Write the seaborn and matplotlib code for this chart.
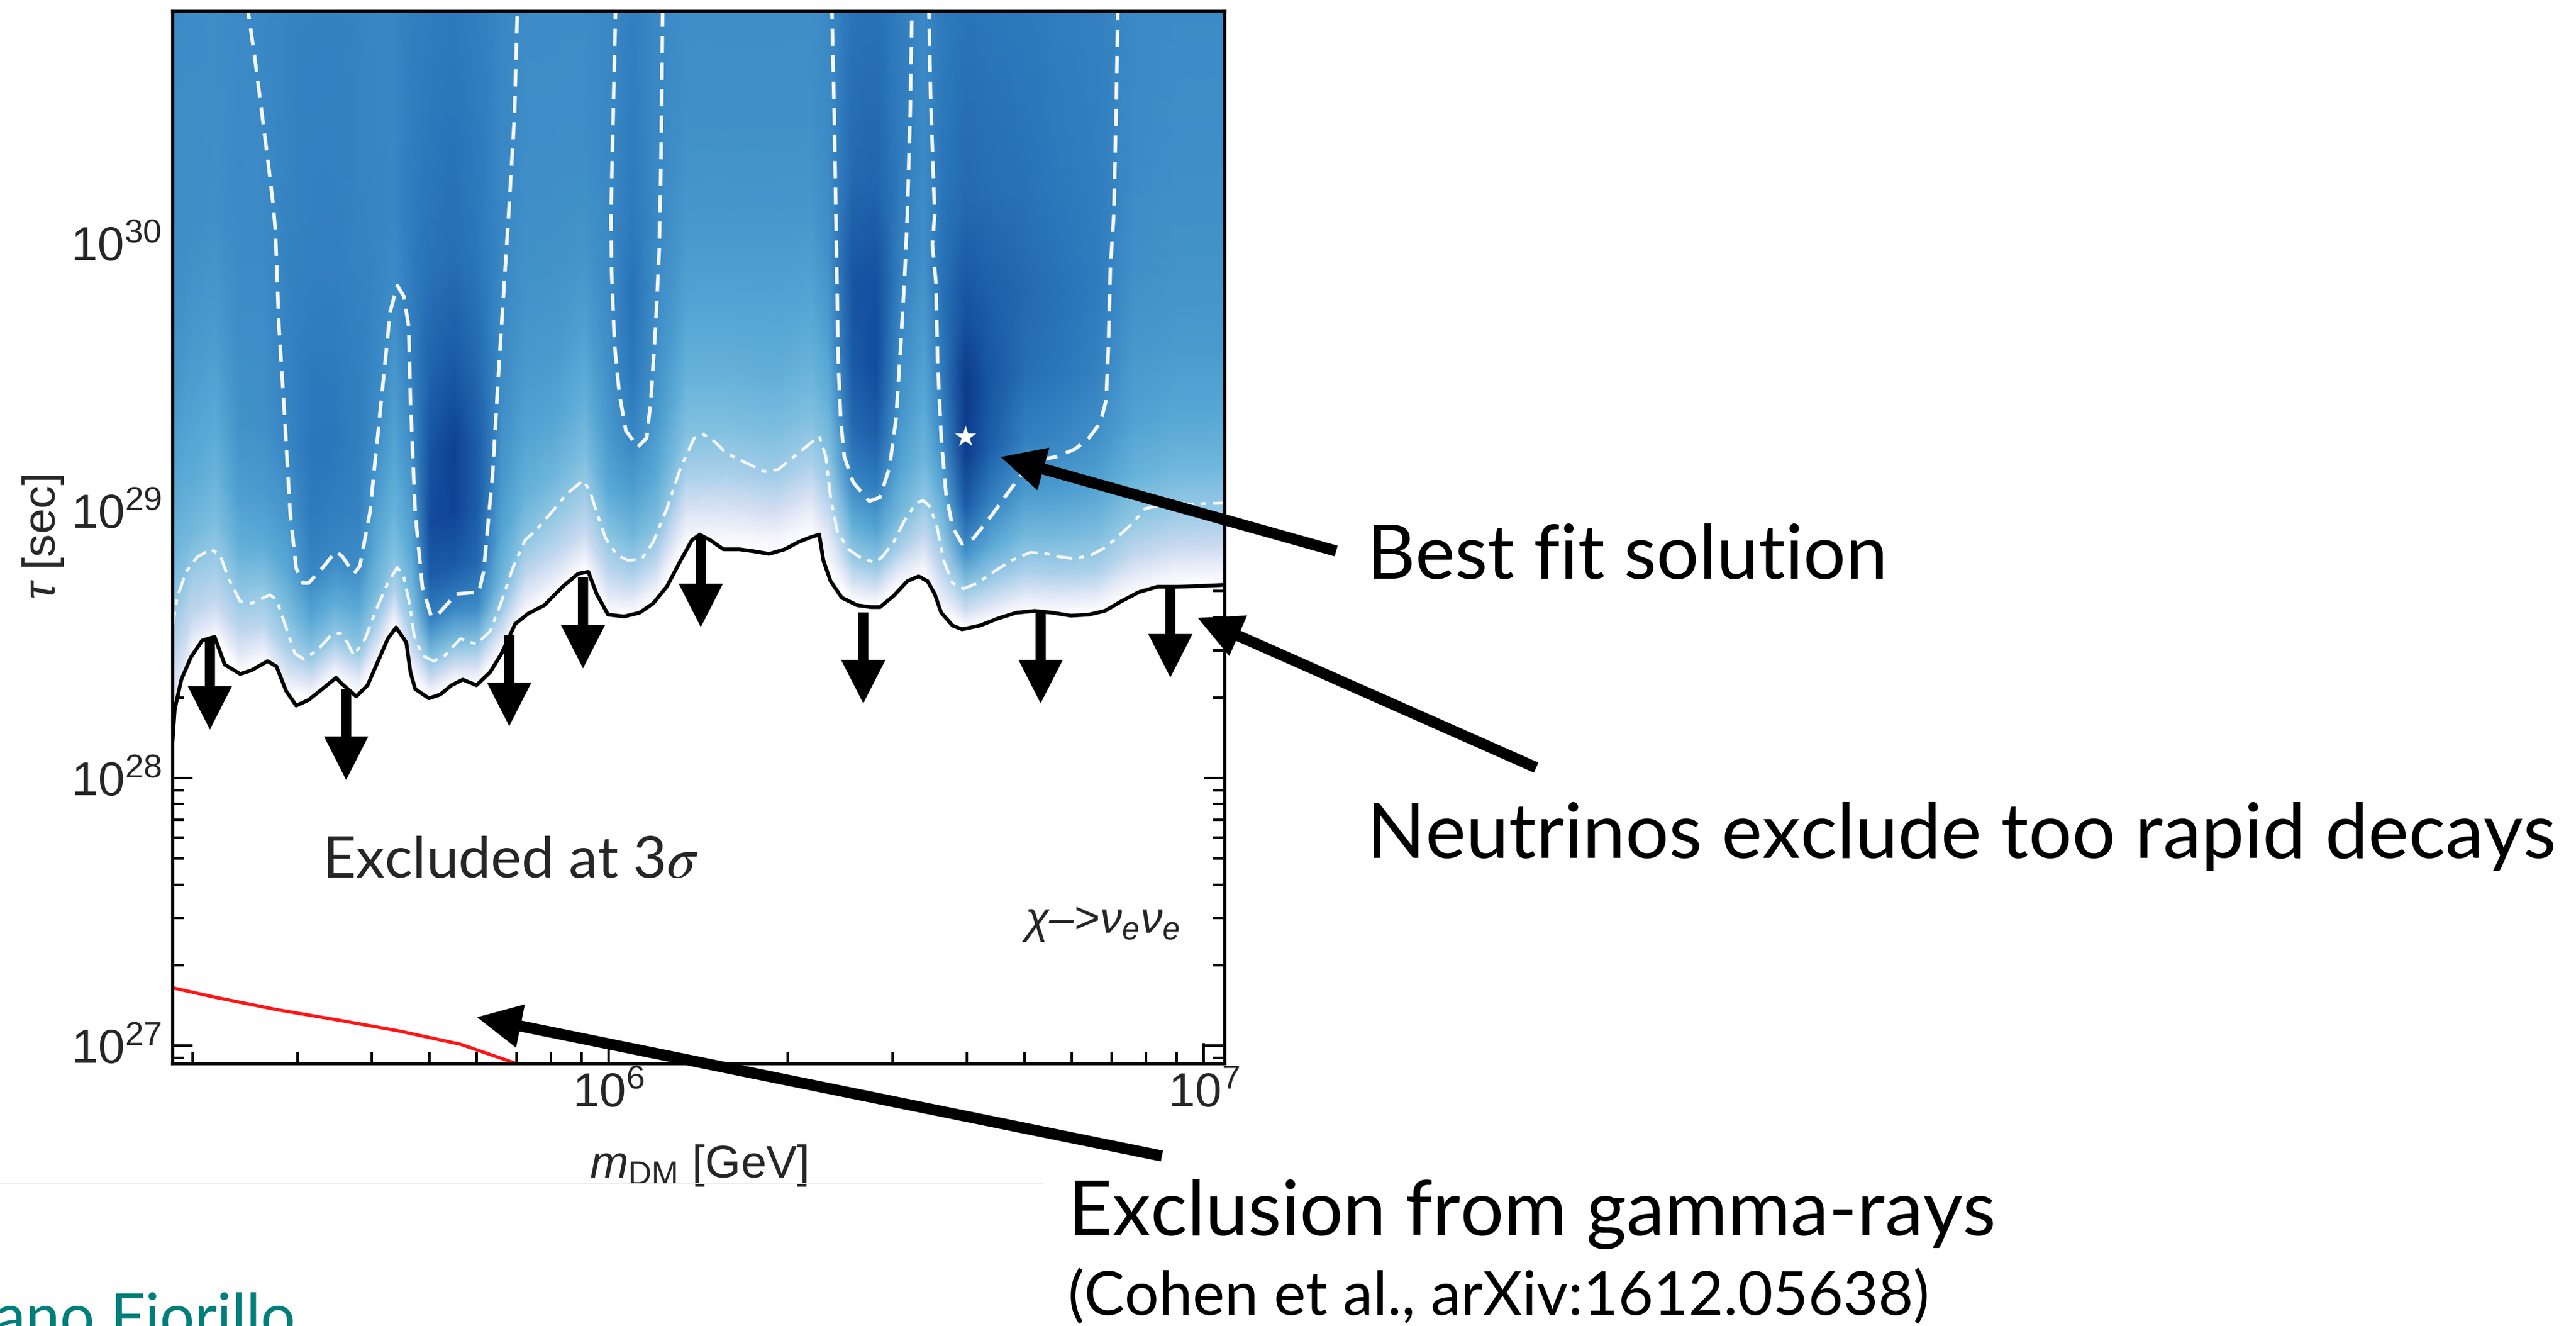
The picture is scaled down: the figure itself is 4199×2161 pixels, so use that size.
import numpy as np
import matplotlib
matplotlib.use("Agg")
import matplotlib.pyplot as plt
from matplotlib import font_manager
from matplotlib.colors import LinearSegmentedColormap
from matplotlib.patches import Polygon
from matplotlib.lines import Line2D
from matplotlib.ticker import NullFormatter
import seaborn as sns

# ---------------------------------------------------------------
# Data: log10(m_DM / GeV) and log10(tau / s)
# ---------------------------------------------------------------
mass_log_range = (5.267, 7.035)
tau_log_range = (26.9335, 30.867)

# 3 sigma lower limit on the lifetime (neutrinos)
limit_logm = [5.267, 5.271, 5.282, 5.298, 5.317, 5.338, 5.355, 5.381, 5.400, 5.427,
              5.442, 5.458, 5.475, 5.496, 5.519, 5.542, 5.551, 5.576, 5.595, 5.614,
              5.629, 5.643, 5.660, 5.667, 5.675, 5.698, 5.717, 5.736, 5.755, 5.778,
              5.801, 5.820, 5.843, 5.865, 5.892, 5.923, 5.949, 5.966, 5.980, 5.999,
              6.026, 6.052, 6.075, 6.098, 6.121, 6.140, 6.153, 6.171, 6.193, 6.220,
              6.243, 6.270, 6.296, 6.319, 6.338, 6.354, 6.361, 6.373, 6.392, 6.418,
              6.441, 6.456, 6.479, 6.502, 6.521, 6.536, 6.548, 6.559, 6.578, 6.594,
              6.624, 6.655, 6.685, 6.716, 6.746, 6.777, 6.807, 6.834, 6.861, 6.891,
              6.922, 6.956, 6.994, 7.035]
limit_logtau = [28.132, 28.257, 28.368, 28.451, 28.514, 28.528, 28.424, 28.389, 28.403, 28.437,
                28.417, 28.326, 28.271, 28.292, 28.333, 28.375, 28.354, 28.305, 28.347, 28.444,
                28.521, 28.563, 28.507, 28.396, 28.333, 28.298, 28.312, 28.347, 28.368, 28.347,
                28.396, 28.465, 28.576, 28.615, 28.646, 28.716, 28.764, 28.771, 28.688, 28.611,
                28.604, 28.618, 28.653, 28.716, 28.813, 28.889, 28.910, 28.889, 28.855, 28.855,
                28.848, 28.838, 28.855, 28.882, 28.899, 28.910, 28.813, 28.736, 28.674, 28.646,
                28.639, 28.639, 28.681, 28.736, 28.754, 28.736, 28.688, 28.618, 28.570, 28.556,
                28.570, 28.597, 28.618, 28.625, 28.618, 28.607, 28.611, 28.625, 28.660, 28.695,
                28.715, 28.715, 28.718, 28.722]

# 2 sigma contour (dash-dot)
cl2_logm = [5.267, 5.275, 5.290, 5.309, 5.332, 5.347, 5.362, 5.381, 5.400, 5.431,
            5.442, 5.458, 5.473, 5.488, 5.511, 5.534, 5.549, 5.561, 5.572, 5.591,
            5.610, 5.629, 5.645, 5.656, 5.666, 5.673, 5.687, 5.706, 5.725, 5.751,
            5.778, 5.801, 5.820, 5.839, 5.860, 5.877, 5.904, 5.930, 5.957, 5.968,
            5.980, 5.995, 6.014, 6.033, 6.056, 6.075, 6.098, 6.121, 6.144, 6.159,
            6.178, 6.197, 6.228, 6.262, 6.285, 6.312, 6.335, 6.354, 6.365, 6.373,
            6.384, 6.403, 6.426, 6.448, 6.460, 6.479, 6.498, 6.517, 6.529, 6.540,
            6.552, 6.563, 6.578, 6.597, 6.620, 6.647, 6.677, 6.708, 6.731, 6.758,
            6.784, 6.811, 6.834, 6.853, 6.880, 6.902, 6.929, 6.975, 7.035]
cl2_logtau = [28.563, 28.674, 28.771, 28.827, 28.855, 28.834, 28.743, 28.660, 28.653, 28.685,
              28.667, 28.563, 28.465, 28.444, 28.479, 28.535, 28.542, 28.507, 28.458, 28.521,
              28.632, 28.729, 28.788, 28.750, 28.646, 28.535, 28.458, 28.437, 28.458, 28.521,
              28.500, 28.549, 28.660, 28.785, 28.890, 28.924, 28.993, 29.063, 29.112, 29.077,
              28.993, 28.896, 28.834, 28.813, 28.820, 28.882, 29.007, 29.160, 29.271, 29.285,
              29.258, 29.216, 29.181, 29.146, 29.153, 29.202, 29.244, 29.278, 29.202, 29.049,
              28.924, 28.855, 28.820, 28.806, 28.827, 28.882, 28.966, 29.028, 29.038, 29.014,
              28.938, 28.813, 28.729, 28.708, 28.729, 28.771, 28.813, 28.843, 28.841, 28.827,
              28.820, 28.834, 28.861, 28.896, 28.952, 29.007, 29.021, 29.024, 29.028]

# 1 sigma contour (dashed), four open pieces reaching the top of the frame
cl1_a_logm = [5.392, 5.405, 5.416, 5.428, 5.436, 5.440, 5.446, 5.454, 5.465, 5.475,
              5.486, 5.496, 5.519, 5.542, 5.553, 5.572, 5.582, 5.599, 5.618, 5.633,
              5.645, 5.656, 5.664, 5.667, 5.675, 5.687, 5.702, 5.713, 5.744, 5.782,
              5.790, 5.805, 5.816, 5.824, 5.832, 5.842, 5.847]
cl1_a_logtau = [30.90, 30.70, 30.51, 30.30, 30.15, 30.05, 29.69, 29.41, 28.99, 28.785,
                28.729, 28.729, 28.785, 28.848, 28.827, 28.764, 28.792, 28.993, 29.411, 29.744,
                29.841, 29.800, 29.688, 29.411, 28.993, 28.715, 28.604, 28.611, 28.688, 28.695,
                28.771, 29.132, 29.549, 29.827, 30.106, 30.48, 30.90]
cl1_b_logm = [6.012, 6.004, 6.005, 6.010, 6.018, 6.029, 6.049, 6.064, 6.071, 6.079,
              6.085, 6.088, 6.091]
cl1_b_logtau = [30.90, 30.106, 29.897, 29.619, 29.438, 29.299, 29.237, 29.271, 29.411, 29.688,
                29.967, 30.30, 30.90]
cl1_c_logm = [6.375, 6.379, 6.382, 6.384, 6.386, 6.390, 6.396, 6.411, 6.438, 6.456,
              6.472, 6.483, 6.491, 6.498, 6.502, 6.507, 6.510]
cl1_c_logtau = [30.90, 30.50, 30.106, 29.827, 29.549, 29.341, 29.202, 29.105, 29.035, 29.049,
                29.160, 29.341, 29.619, 29.897, 30.106, 30.50, 30.90]
cl1_d_logm = [6.538, 6.541, 6.548, 6.544, 6.550, 6.553, 6.559, 6.567, 6.578, 6.594,
              6.613, 6.643, 6.670, 6.693, 6.723, 6.754, 6.784, 6.807, 6.826, 6.836,
              6.840, 6.843, 6.849, 6.853, 6.856]
cl1_d_logtau = [30.90, 30.55, 30.106, 29.994, 29.855, 29.549, 29.271, 29.063, 28.938, 28.875,
                28.896, 28.980, 29.063, 29.132, 29.188, 29.202, 29.230, 29.271, 29.327, 29.411,
                29.619, 29.897, 30.106, 30.50, 30.90]

# gamma-ray exclusion (Cohen et al.)
gamma_logm = [5.267, 5.338, 5.441, 5.544, 5.647, 5.751, 5.845]
gamma_logtau = [27.216, 27.181, 27.135, 27.096, 27.055, 27.005, 26.933]

# "excluded below" markers: mass and lifetime where each arrow starts
drop_logm = [5.330, 5.559, 5.833, 5.957, 6.155, 6.428, 6.726, 6.944]
drop_logtau = [28.521, 28.333, 28.534, 28.750, 28.904, 28.619, 28.619, 28.716]
drop_length = 0.34   # decades

# best-fit point
best_logm = 6.600
best_logtau = 29.275

# fit landscape: level on columns of mass, rows at a height (decades) above the limit
heat_logm = [5.267, 5.30, 5.34, 5.38, 5.42, 5.46, 5.50, 5.54, 5.58, 5.61,
             5.64, 5.67, 5.70, 5.74, 5.78, 5.82, 5.86, 5.91, 5.96, 6.00,
             6.04, 6.08, 6.13, 6.20, 6.28, 6.34, 6.37, 6.41, 6.45, 6.49,
             6.53, 6.56, 6.60, 6.64, 6.70, 6.76, 6.82, 6.88, 6.95, 7.035]
heat_rise = [0.0, 0.06, 0.15, 0.28, 0.45, 0.65, 0.90, 1.20, 1.60, 2.80]
heat_level = [
    [0, .05, .10, .18, .28, .38, .46, .52, .56, .58],
    [0, .10, .20, .27, .38, .45, .49, .53, .57, .58],
    [0, .10, .20, .27, .36, .42, .47, .52, .56, .58],
    [0, .10, .20, .30, .42, .50, .55, .57, .58, .59],
    [0, .10, .22, .31, .45, .52, .56, .57, .58, .60],
    [0, .12, .24, .34, .46, .53, .60, .62, .62, .61],
    [0, .14, .30, .45, .60, .66, .68, .67, .64, .62],
    [0, .13, .29, .44, .59, .65, .68, .66, .64, .62],
    [0, .12, .29, .42, .57, .62, .64, .64, .62, .61],
    [0, .12, .26, .38, .46, .52, .58, .60, .61, .60],
    [0, .10, .24, .34, .42, .47, .52, .57, .60, .60],
    [0, .10, .24, .36, .46, .52, .58, .64, .66, .63],
    [0, .15, .34, .60, .80, .88, .85, .78, .70, .64],
    [0, .15, .34, .60, .82, .92, .93, .82, .72, .65],
    [0, .14, .32, .57, .74, .80, .80, .74, .68, .63],
    [0, .12, .27, .40, .48, .53, .57, .58, .60, .60],
    [0, .10, .20, .32, .42, .48, .52, .55, .57, .58],
    [0, .10, .20, .29, .40, .47, .52, .55, .57, .58],
    [0, .08, .18, .27, .36, .43, .49, .54, .57, .58],
    [0, .10, .20, .31, .45, .52, .56, .58, .59, .59],
    [0, .12, .25, .38, .50, .60, .68, .70, .66, .62],
    [0, .10, .22, .35, .45, .52, .56, .58, .59, .59],
    [0, .06, .14, .25, .35, .42, .48, .53, .56, .58],
    [0, .06, .14, .25, .35, .42, .48, .53, .56, .58],
    [0, .07, .16, .27, .36, .43, .48, .53, .56, .58],
    [0, .06, .14, .25, .35, .42, .48, .53, .56, .58],
    [0, .05, .12, .23, .34, .43, .51, .56, .58, .59],
    [0, .12, .27, .42, .60, .74, .82, .84, .74, .65],
    [0, .13, .30, .47, .65, .80, .88, .86, .76, .66],
    [0, .10, .25, .38, .48, .54, .58, .64, .66, .63],
    [0, .08, .18, .30, .40, .46, .51, .56, .58, .60],
    [0, .10, .20, .31, .45, .58, .66, .70, .68, .64],
    [0, .15, .31, .55, .80, .95, .97, .85, .74, .66],
    [0, .13, .28, .46, .64, .80, .84, .80, .72, .65],
    [0, .11, .25, .38, .52, .64, .72, .74, .70, .64],
    [0, .11, .25, .37, .50, .60, .68, .70, .67, .63],
    [0, .10, .24, .35, .47, .56, .63, .66, .65, .62],
    [0, .09, .20, .31, .42, .49, .53, .56, .58, .59],
    [0, .08, .18, .29, .40, .47, .52, .55, .57, .59],
    [0, .08, .18, .29, .40, .47, .52, .55, .57, .59],
]

# call-out arrow tips (data) for the slide annotations
callout_tip_logm = [6.659, 6.990, 5.779]
callout_tip_logtau = [29.200, 28.599, 27.106]

# ---------------------------------------------------------------
# Figure
# ---------------------------------------------------------------
W, H, DPI = 4199, 2161, 100
sns.set_theme(style="ticks")
plt.rcParams.update({
    "font.family": ["Liberation Sans", "DejaVu Sans"],
    "mathtext.fontset": "custom",
    "mathtext.rm": "Liberation Sans",
    "mathtext.it": "Liberation Sans:italic",
    "mathtext.bf": "Liberation Sans:bold",
    "mathtext.sf": "Liberation Sans",
    "figure.facecolor": "white",
    "axes.facecolor": "white",
    "axes.edgecolor": "black",
    "axes.linewidth": 3.6,
})

# tall, narrow numerals for the tick labels when available
installed = {f.name for f in font_manager.fontManager.ttflist}
if "Liberation Sans Narrow" in installed:
    tick_family, tick_size = "Liberation Sans Narrow", 62
else:
    tick_family, tick_size = "Liberation Sans", 56

fig = plt.figure(figsize=(W / DPI, H / DPI), dpi=DPI)
ax = fig.add_axes([281 / W, 1 - 1733 / H, (1996 - 281) / W, (1733 - 18) / H])
ax.set_xscale("log")
ax.set_yscale("log")
ax.set_xlim(10 ** mass_log_range[0], 10 ** mass_log_range[1])
ax.set_ylim(10 ** tau_log_range[0], 10 ** tau_log_range[1])

def to_lin(v):
    return 10 ** np.asarray(v, dtype=float)

# --- fit landscape ---------------------------------------------------------
fit_cmap = LinearSegmentedColormap.from_list("fit", [
    (0.00, "#ffffff"), (0.08, "#eef1fa"), (0.16, "#d3ddf2"), (0.24, "#b0d2ec"),
    (0.32, "#8cc6e2"), (0.42, "#66b2da"), (0.50, "#4f9fd1"), (0.58, "#3c8bc6"),
    (0.68, "#2c77bb"), (0.80, "#1c5eaa"), (0.92, "#0f4495"), (1.00, "#0a3584")])

hm = np.asarray(heat_logm)
base = np.interp(hm, limit_logm, limit_logtau)
rise = np.concatenate([[-0.4], heat_rise])
level = np.asarray(heat_level, dtype=float).T
level = np.vstack([np.zeros((1, level.shape[1])), level])
MX = np.repeat(hm[None, :], len(rise), axis=0)
MY = base[None, :] + rise[:, None]
mesh = ax.pcolormesh(10 ** MX, 10 ** MY, level, shading="gouraud",
                     cmap=fit_cmap, vmin=0, vmax=1, zorder=1)

lm, lt = to_lin(limit_logm), to_lin(limit_logtau)
top = 10 ** (tau_log_range[1] + 1)
verts = ([(lm[0] / 2, lt[0])] + list(zip(lm, lt)) +
         [(lm[-1] * 2, lt[-1]), (lm[-1] * 2, top), (lm[0] / 2, top)])
clip = Polygon(verts, closed=True, transform=ax.transData)
mesh.set_clip_path(clip)

# --- contours ----------------------------------------------------------------
line_white = "#f4f7fb"
sns.lineplot(x=to_lin(cl2_logm), y=to_lin(cl2_logtau), sort=False, estimator=None,
             color=line_white, lw=3.4, ax=ax, legend=False, zorder=3)
ax.lines[-1].set_dashes([5.5, 2.4, 1.8, 2.4])

for xs, ys in [(cl1_a_logm, cl1_a_logtau), (cl1_b_logm, cl1_b_logtau),
               (cl1_c_logm, cl1_c_logtau), (cl1_d_logm, cl1_d_logtau)]:
    sns.lineplot(x=to_lin(xs), y=to_lin(ys), sort=False, estimator=None,
                 color=line_white, lw=4.2, ax=ax, legend=False, zorder=3)
    ax.lines[-1].set_dashes([4.8, 2.6])

sns.lineplot(x=lm, y=lt, sort=False, estimator=None, color="black", lw=4.4,
             ax=ax, legend=False, zorder=4)
sns.lineplot(x=to_lin(gamma_logm), y=to_lin(gamma_logtau), sort=False, estimator=None,
             color="#ff1414", lw=3.8, ax=ax, legend=False, zorder=4)

sns.scatterplot(x=[10 ** best_logm], y=[10 ** best_logtau], marker="*", s=700,
                color="white", edgecolor="none", ax=ax, legend=False, zorder=6)

# --- "excluded" arrows -------------------------------------------------------
drop_style = "simple,head_length=51,head_width=52,tail_width=12"
for xm, yt in zip(drop_logm, drop_logtau):
    ax.annotate("", xy=(10 ** xm, 10 ** (yt - drop_length)), xytext=(10 ** xm, 10 ** yt),
                arrowprops=dict(arrowstyle=drop_style, mutation_scale=1, fc="black",
                                ec="none", lw=0, shrinkA=0, shrinkB=0),
                zorder=5)

# --- axes styling ------------------------------------------------------------
for s in ax.spines.values():
    s.set_linewidth(3.8)
    s.set_color("black")
    s.set_zorder(7)
ax.tick_params(which="both", direction="in", top=True, right=True, width=2.9,
               color="black", labelfontfamily=tick_family)
ax.tick_params(which="major", length=24, labelsize=tick_size)
ax.tick_params(axis="y", which="major", pad=13)
ax.tick_params(axis="x", which="major", pad=10)
ax.tick_params(which="minor", length=14)
ax.xaxis.set_minor_formatter(NullFormatter())
ax.yaxis.set_minor_formatter(NullFormatter())
ax.grid(False)

ax.set_xlabel(r"$m_{\rm DM}$ [GeV]", fontsize=54, family="Liberation Sans")
ax.set_ylabel(r"$\tau$ [sec]", fontsize=54, family="Liberation Sans")
ax.xaxis.set_label_coords(0.5, -0.0758)
ax.yaxis.set_label_coords(-0.1015, 0.5)

ax.text(0.1423, 0.1767, r"Excluded at 3$\sigma$", transform=ax.transAxes, fontsize=68,
        family="Lato", math_fontfamily="stix", va="baseline", ha="left", zorder=6)
ax.text(0.9574, 0.1242, r"$\chi$" + "\u2013>" + r"$\nu_e\nu_e$", transform=ax.transAxes,
        fontsize=52, family="Liberation Sans", style="italic", va="baseline", ha="right",
        zorder=6)

# --- slide annotations -------------------------------------------------------
def fig_frac(px, py):
    return (px / W, 1 - py / H)

callout_style = "simple,head_length=52,head_width=52,tail_width=13"
callout_tails = [(2178, 898), (2504, 1251), (1894, 1884)]
for xm, yt, tail in zip(callout_tip_logm, callout_tip_logtau, callout_tails):
    ann = ax.annotate("", xy=(10 ** xm, 10 ** yt), xycoords="data",
                      xytext=fig_frac(*tail), textcoords="figure fraction",
                      arrowprops=dict(arrowstyle=callout_style, mutation_scale=1, fc="black",
                                      ec="none", lw=0, shrinkA=0, shrinkB=0),
                      annotation_clip=False, zorder=10)
    ann.arrow_patch.set_clip_on(False)

slide_font = dict(family="Lato", color="black", va="baseline", ha="left")
fig.text(*fig_frac(2228, 943), "Best fit solution", fontsize=88, **slide_font)
fig.text(*fig_frac(2228, 1398), "Neutrinos exclude too rapid decays", fontsize=90, **slide_font)
fig.text(*fig_frac(1741, 2013), "Exclusion from gamma-rays", fontsize=90, **slide_font)
fig.text(*fig_frac(1741, 2143), "(Cohen et al., arXiv:1612.05638)", fontsize=71, **slide_font)
fig.text(*fig_frac(-8, 2180), "ano Fiorillo", fontsize=72, family="Lato", color="#007f7a",
         va="baseline", ha="left")

fig.add_artist(Line2D([0, 1700 / W], [1 - 1929 / H] * 2, color="#ececec", lw=1.2))

fig.savefig("out.png", dpi=DPI)
